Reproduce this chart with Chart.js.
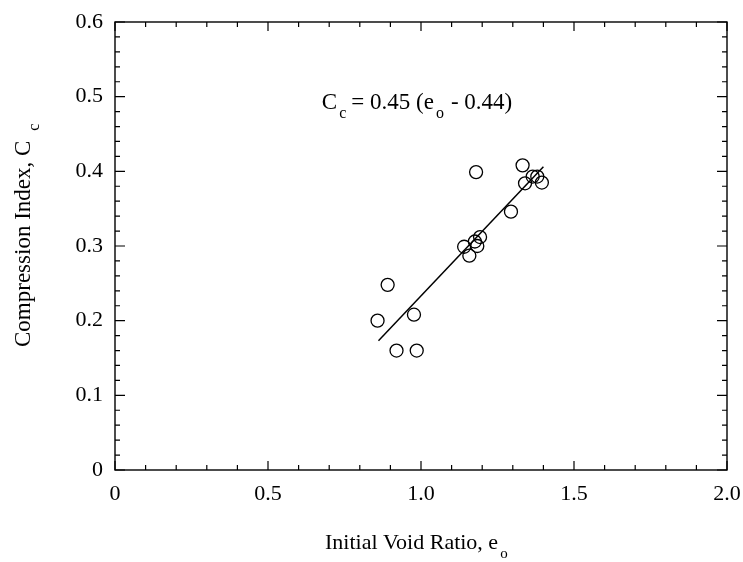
<!DOCTYPE html>
<html>
<head>
<meta charset="utf-8">
<script src="https://cdn.jsdelivr.net/npm/chart.js@4/dist/chart.umd.min.js"></script>
<style>
	html, body { margin: 0; padding: 0; background: #fff; }
	#wrap { width: 743px; height: 562px; }
</style>
</head>
<body>
<div id="wrap"><canvas id="chart" width="743" height="562"></canvas></div>
<script>
// measured points (initial void ratio vs compression index)
var voidRatio = [1.18, 1.332, 1.365, 1.38, 1.34, 1.395, 1.294, 1.141, 1.193, 1.184, 1.158, 1.176, 0.891, 0.858, 0.977, 0.92, 0.986];
var compIndex = [0.399, 0.408, 0.393, 0.393, 0.384, 0.385, 0.346, 0.299, 0.312, 0.300, 0.287, 0.306, 0.248, 0.200, 0.208, 0.160, 0.160];

// fitted line, ends as drawn
var fitX = [0.861, 1.400];
var fitY = [0.173, 0.406];

var xTicks = [0, 0.5, 1.0, 1.5, 2.0];
var xTickLabels = ['0', '0.5', '1.0', '1.5', '2.0'];
var yTicks = [0, 0.1, 0.2, 0.3, 0.4, 0.5, 0.6];
var yTickLabels = ['0', '0.1', '0.2', '0.3', '0.4', '0.5', '0.6'];
var xMinorStep = 0.1;
var yMinorStep = 0.02;

var serif = '"Liberation Serif", "DejaVu Serif", serif';

// inward ticks on all four sides + subscripted texts
var frameDeco = {
	id: 'frameDeco',
	afterDraw: function(c){
		var ctx = c.ctx;
		var a = c.chartArea;
		var sx = c.scales.x, sy = c.scales.y;
		ctx.save();
		ctx.strokeStyle = '#000';
		ctx.lineWidth = 1.4;
		ctx.strokeRect(a.left, a.top, a.right - a.left, a.bottom - a.top);
		ctx.lineWidth = 1.2;
		ctx.beginPath();
		for(var i = 0; i <= Math.round(2 / xMinorStep); i++){
			var v = i * xMinorStep;
			var px = sx.getPixelForValue(v);
			var len = (i % 5 === 0) ? 9 : 5;
			ctx.moveTo(px, a.bottom); ctx.lineTo(px, a.bottom - len);
			ctx.moveTo(px, a.top); ctx.lineTo(px, a.top + len);
		}
		for(var j = 0; j <= Math.round(0.6 / yMinorStep); j++){
			var w = j * yMinorStep;
			var py = sy.getPixelForValue(w);
			var l2 = (j % 5 === 0) ? 10 : 5;
			ctx.moveTo(a.left, py); ctx.lineTo(a.left + l2, py);
			ctx.moveTo(a.right, py); ctx.lineTo(a.right - l2, py);
		}
		ctx.stroke();

		ctx.fillStyle = '#000';
		ctx.textBaseline = 'alphabetic';
		function runs(parts, x, y, size){
			parts.forEach(function(p){
				ctx.font = (p.sub ? Math.round(size * 0.68) : size) + 'px ' + serif;
				ctx.fillText(p.t, x, y + (p.sub ? 9 : 0));
				x += ctx.measureText(p.t).width + (p.gap || 0);
			});
		}
		// equation
		runs([
			{t: 'C', gap: 2}, {t: 'c', sub: true, gap: 5}, {t: '= 0.45 (e', gap: 2}, {t: 'o', sub: true, gap: 7}, {t: '- 0.44)'}
		], sx.getPixelForValue(0.676), sy.getPixelForValue(0.484), 23);
		// x title
		runs([{t: 'Initial Void Ratio, e', gap: 2}, {t: 'o', sub: true}], 325, 549, 22);
		// y title
		ctx.translate(30, 347);
		ctx.rotate(-Math.PI / 2);
		runs([{t: 'Compression Index, C', gap: 10}, {t: 'c', sub: true}], 0, 0, 23);
		ctx.restore();
	}
};

new Chart(document.getElementById('chart'), {
	type: 'scatter',
	data: {
		datasets: [{
			type: 'line',
			data: fitX.map(function(x, i){ return {x: x, y: fitY[i]}; }),
			borderColor: '#000',
			borderWidth: 1.5,
			pointRadius: 0,
			fill: false,
		}, {
			data: voidRatio.map(function(x, i){ return {x: x, y: compIndex[i]}; }),
			pointStyle: 'circle',
			pointRadius: 6.5,
			pointBorderWidth: 1.3,
			borderColor: '#000',
			backgroundColor: 'rgba(0,0,0,0)',
		}]
	},
	options: {
		responsive: false,
		animation: false,
		layout: {padding: {left: 0, right: 16, top: 22, bottom: 0}},
		plugins: {legend: {display: false}, tooltip: {enabled: false}},
		scales: {
			x: {
				type: 'linear', min: 0, max: 2,
				afterBuildTicks: function(s){ s.ticks = xTicks.map(function(v){ return {value: v}; }); },
				afterFit: function(s){ s.height = 92; s.paddingLeft = 0; s.paddingRight = 0; },
				grid: {display: false, drawTicks: false},
				border: {display: false},
				ticks: {
					padding: 11,
					color: '#000',
					font: {family: serif, size: 22},
					maxRotation: 0,
					callback: function(v, i){ return xTickLabels[i]; }
				}
			},
			y: {
				type: 'linear', min: 0, max: 0.6,
				afterBuildTicks: function(s){ s.ticks = yTicks.map(function(v){ return {value: v}; }); },
				afterFit: function(s){ s.width = 115; s.paddingTop = 0; s.paddingBottom = 0; },
				grid: {display: false, drawTicks: false},
				border: {display: false},
				ticks: {
					padding: 12,
					color: '#000',
					font: {family: serif, size: 22},
					callback: function(v, i){ return yTickLabels[i]; }
				}
			}
		}
	},
	plugins: [frameDeco]
});
</script>
</body>
</html>
